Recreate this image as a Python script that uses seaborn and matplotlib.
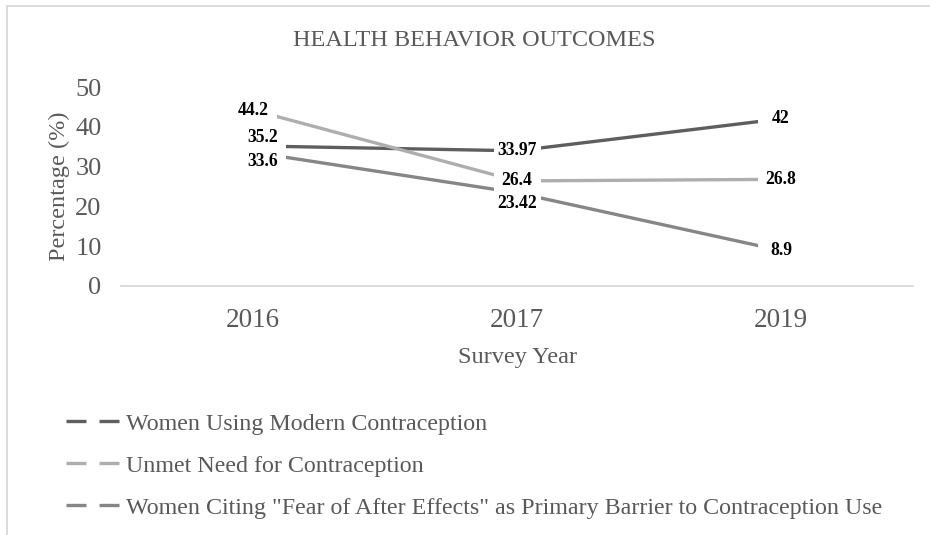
import numpy as np
import pandas as pd
import matplotlib
matplotlib.use("Agg")
import matplotlib.pyplot as plt
from matplotlib.path import Path
from matplotlib.lines import Line2D
from matplotlib.patches import Rectangle
import seaborn as sns

# ---- data ----
years = ["2016", "2017", "2019"]
series_names = [
    "Women Using Modern Contraception",
    "Unmet Need for Contraception",
    'Women Citing "Fear of After Effects" as Primary Barrier to Contraception Use',
]
modern_use = [35.2, 33.97, 42]
unmet_need = [44.2, 26.4, 26.8]
fear_after_effects = [33.6, 23.42, 8.9]
series_colors = ["#5e5e5e", "#aeaeae", "#868686"]

title = "HEALTH BEHAVIOR OUTCOMES"
x_label = "Survey Year"
y_label = "Percentage (%)"
y_ticks = [0, 10, 20, 30, 40, 50]

values = [modern_use, unmet_need, fear_after_effects]
df = pd.DataFrame({
    "Year": years * 3,
    "Series": [n for n in series_names for _ in years],
    "Value": [v for vals in values for v in vals],
})

# ---- style ----
sns.set_theme(style="white")
plt.rcParams["font.family"] = ["Liberation Serif", "DejaVu Serif"]
plt.rcParams["lines.scale_dashes"] = False
txt_color = "#595959"

W, H = 930, 535
fig = plt.figure(figsize=(W / 100, H / 100), dpi=100)
ax = fig.add_axes([121 / W, 1 - 286 / H, (913 - 121) / W, (286 - 87) / H])

sns.lineplot(data=df, x="Year", y="Value", hue="Series", palette=series_colors,
             linewidth=2.4, ax=ax, legend=False, sort=False)

ax.set_xlim(-0.5, 2.5)
ax.set_ylim(0, 50)
ax.set_yticks(y_ticks)
ax.tick_params(axis="y", length=0, pad=14, labelsize=19, labelcolor=txt_color)
ax.tick_params(axis="x", length=0, pad=16, labelsize=19.5, labelcolor=txt_color)
for s in ["top", "right", "left"]:
    ax.spines[s].set_visible(False)
ax.spines["bottom"].set_color("#d9d9d9")
ax.spines["bottom"].set_linewidth(1.3)
ax.grid(False)
ax.set_xlabel(x_label, fontsize=17.5, color=txt_color, labelpad=10)
ax.set_ylabel(y_label, fontsize=17.5, color=txt_color, labelpad=4)

fig.text(474.5 / W, 1 - 41 / H, title, ha="center", va="center",
         fontsize=17.5, color=txt_color)


# fixed-width white label boxes (like the reference's data labels)
def fixed_box(x0, y0, width, height, mutation_size):
    cx = x0 + width / 2
    cy = y0 + height / 2
    w = max(width + 6, 47)
    h = 22
    verts = [(cx - w / 2, cy - h / 2), (cx + w / 2, cy - h / 2),
             (cx + w / 2, cy + h / 2), (cx - w / 2, cy + h / 2),
             (cx - w / 2, cy - h / 2)]
    return Path(verts, closed=True)


offsets = {
    (0, 0): (7, 6),
    (2, 0): (7, -6.5),
    (2, 1): (0, -7.5),
}
for si, vals in enumerate(values):
    for xi, v in enumerate(vals):
        dx, dy = offsets.get((si, xi), (0, 0))
        ax.annotate(f"{v:g}", xy=(xi, v), xytext=(dx, dy),
                    textcoords="offset points", ha="center", va="center",
                    fontsize=12.7, fontweight="bold", color="black", zorder=5,
                    bbox=dict(boxstyle=fixed_box, fc="white", ec="none"))

# legend
handles = [Line2D([0], [0], color=c, lw=2.4, dashes=(14.4, 9.4)) for c in series_colors]
leg = fig.legend(handles, series_names, loc="upper left",
                 bbox_to_anchor=(66 / W, 1 - 413 / H), frameon=False,
                 fontsize=17.3, handlelength=2.2, handletextpad=0.3,
                 labelspacing=0.84, borderpad=0, borderaxespad=0)
for t in leg.get_texts():
    t.set_color(txt_color)

# chart border
fig.patches.append(Rectangle((7 / W, -0.1), 1.2, 1.1 - 6 / H, transform=fig.transFigure,
                             fill=False, ec="#d9d9d9", lw=1.3))

fig.savefig("out.png", dpi=100)
